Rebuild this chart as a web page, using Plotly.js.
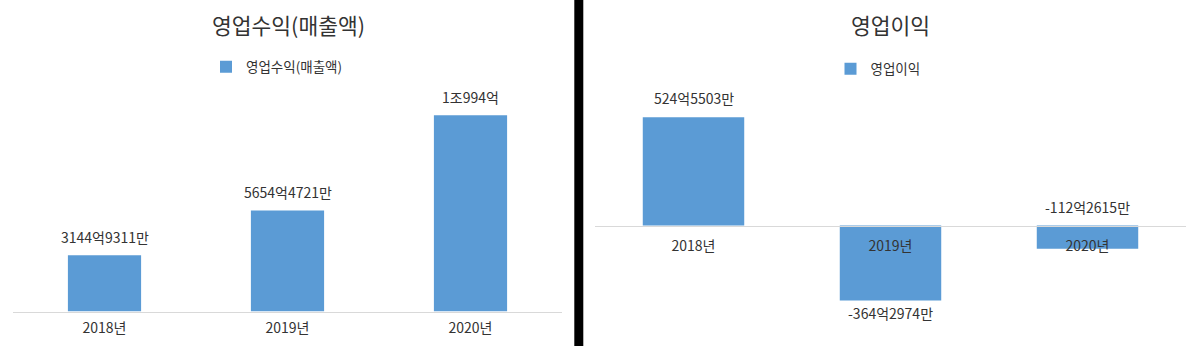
<!DOCTYPE html>
<html>
<head>
<meta charset="utf-8">
<script src="https://cdn.plot.ly/plotly-3.0.1.min.js"></script>
<style>html,body{margin:0;padding:0;background:#fff;}#chart{width:1197px;height:346px;}</style>
</head>
<body>
<div id="chart"></div>
<script>
// ---- data ----
const years = ['2018년', '2019년', '2020년'];
const revenueName = '영업수익(매출액)';
const revenue = [3144.9311, 5654.4721, 10994];          // 억원
const revenueLabels = ['3144억9311만', '5654억4721만', '1조994억'];
const profitName = '영업이익';
const profit = [524.5503, -364.2974, -112.2615];         // 억원
const profitLabels = ['524억5503만', '-364억2974만', '-112억2615만'];

// ---- layout helpers ----
const W = 1197, H = 346;
const px = v => v / W;
const py = v => (H - v) / H;
const FONT = "'Noto Sans CJK KR', 'Noto Sans', sans-serif";
const TXT = '#333333';
const BAR = '#5b9bd5';
const AX = '#d9d9d9';

const traces = [
  {type: 'bar', name: revenueName, x: years, y: revenue, xaxis: 'x', yaxis: 'y', width: 0.4,
   marker: {color: BAR}, legend: 'legend', hoverinfo: 'x+y'},
  {type: 'bar', name: profitName, x: years, y: profit, xaxis: 'x2', yaxis: 'y2', width: 0.515,
   marker: {color: BAR}, legend: 'legend2', hoverinfo: 'x+y'}
];

const annotations = [];
revenue.forEach((v, i) => {
  annotations.push({xref: 'x', yref: 'y', x: years[i], y: v, text: revenueLabels[i],
    showarrow: false, yanchor: 'middle', yshift: 18.5,
    font: {family: FONT, size: 14, color: TXT}});
});
// label anchor per bar: at bar end, or at the zero base
const profitLabelAt = ['end', 'end', 'base'];
profit.forEach((v, i) => {
  const atBase = profitLabelAt[i] === 'base';
  annotations.push({xref: 'x2', yref: 'y2', x: years[i], y: atBase ? 0 : v, text: profitLabels[i],
    showarrow: false, yanchor: 'middle', yshift: (atBase || v > 0) ? 19 : -12.5,
    font: {family: FONT, size: 14, color: TXT}});
});
// panel titles
annotations.push({xref: 'paper', yref: 'paper', x: px(288), y: py(25), text: revenueName,
  showarrow: false, xanchor: 'center', yanchor: 'middle', font: {family: FONT, size: 21.5, color: TXT}});
annotations.push({xref: 'paper', yref: 'paper', x: px(890.5), y: py(25), text: profitName,
  showarrow: false, xanchor: 'center', yanchor: 'middle', font: {family: FONT, size: 21.5, color: TXT}});

const layout = {
  width: W, height: H,
  margin: {l: 0, r: 0, t: 0, b: 0},
  paper_bgcolor: '#ffffff', plot_bgcolor: '#ffffff',
  font: {family: FONT, size: 14, color: TXT},
  xaxis: {domain: [px(13), px(562)], anchor: 'y', type: 'category', showline: true, linecolor: AX, linewidth: 1,
          ticks: '', ticklabelstandoff: 4, showgrid: false, zeroline: false,
          tickfont: {family: FONT, size: 14, color: TXT}, fixedrange: true},
  yaxis: {domain: [py(311.5), py(95)], range: [0, 216.5 * 56], visible: false, fixedrange: true},
  xaxis2: {domain: [px(595), px(1186)], anchor: 'free', position: py(225.5), type: 'category', showline: true,
           linecolor: AX, linewidth: 1, ticks: '', ticklabelstandoff: 8, showgrid: false, zeroline: false,
           tickfont: {family: FONT, size: 14, color: TXT}, fixedrange: true},
  yaxis2: {domain: [py(330), py(95)], range: [-(330 - 225.5) * 4.85, (225.5 - 95) * 4.85], visible: false, fixedrange: true},
  showlegend: true,
  legend: {orientation: 'h', x: px(277), xanchor: 'center', y: py(67), yanchor: 'middle',
           font: {family: FONT, size: 13.5, color: TXT}, bgcolor: 'rgba(0,0,0,0)'},
  legend2: {orientation: 'h', x: px(878), xanchor: 'center', y: py(69), yanchor: 'middle',
            font: {family: FONT, size: 13.5, color: TXT}, bgcolor: 'rgba(0,0,0,0)'},
  annotations: annotations,
  shapes: [{type: 'rect', xref: 'paper', yref: 'paper', x0: px(574.3), x1: px(583.3), y0: 0, y1: 1,
            fillcolor: '#000000', line: {width: 0}, layer: 'above'}]
};

Plotly.newPlot('chart', traces, layout, {displayModeBar: false, staticPlot: true});
</script>
</body>
</html>
